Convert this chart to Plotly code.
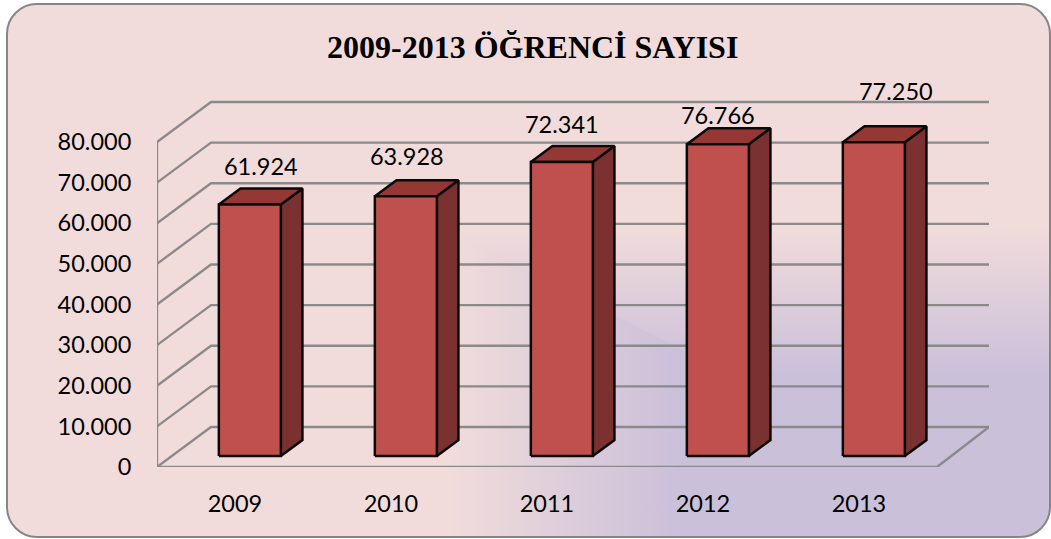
import urllib.parse
import plotly.graph_objects as go

# ---- data ----
years = ["2009", "2010", "2011", "2012", "2013"]
students = [61924, 63928, 72341, 76766, 77250]
student_labels = ["61.924", "63.928", "72.341", "76.766", "77.250"]
y_ticks = [0, 10000, 20000, 30000, 40000, 50000, 60000, 70000, 80000]
y_tick_labels = ["0", "10.000", "20.000", "30.000", "40.000", "50.000", "60.000", "70.000", "80.000"]
title_text = "2009-2013 ÖĞRENCİ SAYISI"

# ---- layout constants (pixels) ----
W, H = 1051, 539
L, R, T, B = 157, 989, 70, 467
CAT_PX = 156.0
PX_PER_VAL = 325 / 80000
DEPTH_PX_X, DEPTH_PX_Y = 54, 40
BAR_W = 62 / CAT_PX
D0, D1 = 0.275, 0.675
# hand-placed label offsets from the bar's front-top centre, in pixels
label_nudge_x = [11, 1, 0, 0, 22]
label_nudge_y = [35, 37, 35, 26, 48]

DX = DEPTH_PX_X / CAT_PX
DY = DEPTH_PX_Y / PX_PER_VAL
x_min = -0.5
x_max = x_min + (R - L) / CAT_PX
x_front_max = x_min + len(years)
y_max = (B - T) / PX_PER_VAL

GRID = "#8a8a8a"
FRONT, TOP, SIDE = "#C0504D", "#953735", "#7B3130"

fig = go.Figure()

# walls: left-wall diagonals + back-wall horizontals, floor outline
gx, gy = [], []
for v in y_ticks:
    gx += [x_min, x_min + DX, x_max, None]
    gy += [v, v + DY, v + DY, None]
gx += [x_min, x_min, None, x_min, x_front_max, x_max]
gy += [0, y_ticks[-1], None, 0, 0, DY]
fig.add_trace(go.Scatter(x=gx, y=gy, mode="lines", line=dict(color=GRID, width=2.4),
                         hoverinfo="skip", showlegend=False))


def poly(xs, ys, color):
    fig.add_trace(go.Scatter(x=xs + xs[:1], y=ys + ys[:1], mode="lines", fill="toself",
                             fillcolor=color, line=dict(color="#0a0a0a", width=2.5),
                             hoverinfo="skip", showlegend=False))


for i, v in enumerate(students):
    x0 = i - BAR_W / 2 + D0 * DX
    x1 = x0 + BAR_W
    y0 = D0 * DY
    y1 = v + D0 * DY
    ddx = (D1 - D0) * DX
    ddy = (D1 - D0) * DY
    poly([x1, x1 + ddx, x1 + ddx, x1], [y0, y0 + ddy, y1 + ddy, y1], SIDE)
    poly([x0, x1, x1 + ddx, x0 + ddx], [y1, y1, y1 + ddy, y1 + ddy], TOP)
    poly([x0, x1, x1, x0], [y0, y0, y1, y1], FRONT)

fig.add_trace(go.Scatter(
    x=[i + D0 * DX + label_nudge_x[i] / CAT_PX for i in range(len(years))],
    y=[v + D0 * DY + label_nudge_y[i] / PX_PER_VAL for i, v in enumerate(students)],
    text=student_labels, mode="text", textposition="middle center",
    textfont=dict(family="Lato", size=23.5, color="#000000"),
    cliponaxis=False, hoverinfo="skip", showlegend=False))

PINK, LAV = "#F2DCDB", "#CAC0DA"
svg = (
    f'<svg xmlns="http://www.w3.org/2000/svg" width="{W}" height="{H}" viewBox="0 0 {W} {H}">'
    '<defs>'
    f'<linearGradient id="h" gradientUnits="userSpaceOnUse" x1="445" y1="0" x2="680" y2="0">'
    f'<stop offset="0" stop-color="{PINK}"/><stop offset="1" stop-color="{LAV}"/></linearGradient>'
    f'<linearGradient id="v" gradientUnits="userSpaceOnUse" x1="0" y1="225" x2="0" y2="375">'
    f'<stop offset="0" stop-color="{PINK}"/><stop offset="1" stop-color="{LAV}"/></linearGradient>'
    '<clipPath id="c"><rect x="7" y="4" width="1043" height="533" rx="30" ry="30"/></clipPath>'
    '</defs>'
    '<g clip-path="url(#c)">'
    f'<rect x="0" y="0" width="{W}" height="{H}" fill="url(#h)"/>'
    # upper-right triangle: isolines run horizontally, meeting the vertical ones on a diagonal
    f'<polygon points="0,0 {W},0 {W},{H}" fill="url(#v)"/>'
    '</g>'
    '<rect x="7" y="4" width="1043" height="533" rx="30" ry="30" fill="none" '
    'stroke="#868686" stroke-width="2"/></svg>'
)
span_x, span_y = R - L, B - T

fig.update_layout(
    width=W, height=H, autosize=False,
    margin=dict(l=L, r=W - R, t=T, b=H - B, pad=0),
    paper_bgcolor="#ffffff", plot_bgcolor="rgba(0,0,0,0)",
    showlegend=False, hovermode=False,
    xaxis=dict(range=[x_min, x_max], tickvals=list(range(len(years))), ticktext=years,
               showgrid=False, zeroline=False, showline=False, ticks="outside",
               ticklen=16, tickcolor="rgba(0,0,0,0)",
               tickfont=dict(family="Lato", size=23.5, color="#000000")),
    yaxis=dict(range=[0, y_max], tickvals=y_ticks, ticktext=y_tick_labels,
               showgrid=False, zeroline=False, showline=False, ticks="outside",
               ticklen=20, tickcolor="rgba(0,0,0,0)",
               tickfont=dict(family="Lato", size=23.5, color="#000000")),
    annotations=[dict(text=f"<b>{title_text}</b>", xref="paper", yref="paper",
                      x=(532 - L) / span_x, y=1 + (T - 47) / span_y, showarrow=False,
                      xanchor="center", yanchor="middle",
                      font=dict(family="Liberation Serif", size=32, color="#000000"))],
    images=[dict(source="data:image/svg+xml," + urllib.parse.quote(svg),
                 xref="paper", yref="paper", x=-L / span_x, y=1 + T / span_y,
                 sizex=W / span_x, sizey=H / span_y, xanchor="left", yanchor="top",
                 sizing="stretch", layer="below")],
)

fig.write_html("out.html", config={"displayModeBar": False},
               post_script="document.body.style.margin='0';document.body.style.overflow='hidden';")
